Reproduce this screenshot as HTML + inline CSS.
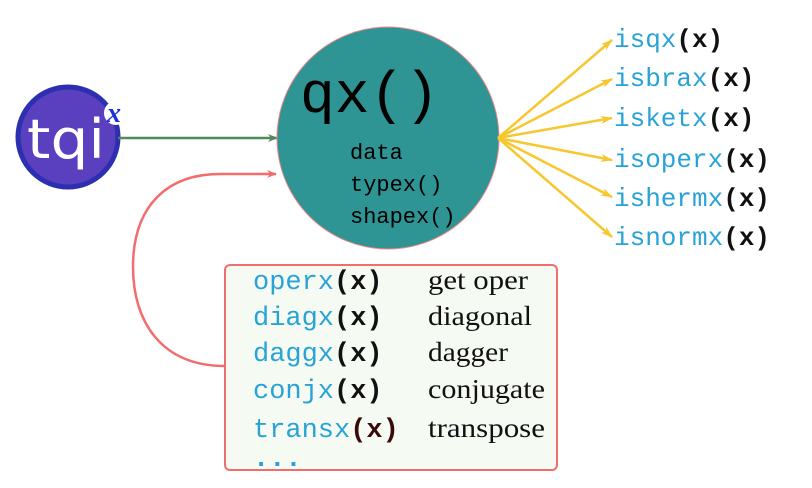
<!DOCTYPE html>
<html><head><meta charset="utf-8"><style>
html,body{margin:0;padding:0;background:#fff;width:812px;height:488px;overflow:hidden}
</style></head><body>
<svg width="812" height="488" viewBox="0 0 812 488" xmlns="http://www.w3.org/2000/svg">
<defs>
<marker id="ag" markerWidth="10" markerHeight="8" refX="9" refY="4" orient="auto" markerUnits="userSpaceOnUse"><path d="M0,0 L10,4 L0,8 L3,4 z" fill="#4f8a5a"/></marker>
<marker id="ar" markerWidth="10" markerHeight="8" refX="9" refY="4" orient="auto" markerUnits="userSpaceOnUse"><path d="M0,0 L10,4 L0,8 L3,4 z" fill="#f26d6d"/></marker>
<marker id="ay" markerWidth="12" markerHeight="8" refX="11" refY="4" orient="auto" markerUnits="userSpaceOnUse"><path d="M0,0 L12,4 L0,8 L3,4 z" fill="#f7c72f"/></marker>
</defs>
<!-- tqi logo -->
<circle cx="68" cy="137" r="50" fill="#5a3fbf" stroke="#2b2fb0" stroke-width="5"/>
<text x="27" y="158" font-family="DejaVu Sans, sans-serif" font-size="54" fill="#fff" textLength="78" lengthAdjust="spacingAndGlyphs">tqi</text>
<circle cx="116" cy="113" r="12" fill="#fff"/>
<text x="107" y="122" font-family="Liberation Serif, serif" font-style="italic" font-weight="bold" font-size="28" fill="#1a2ee0">x</text>
<!-- green arrow -->
<line x1="118" y1="138" x2="277" y2="138" stroke="#4f8a5a" stroke-width="2.5" marker-end="url(#ag)"/>
<!-- red curve -->
<path d="M225,366 C160,366 133,320 133,267 C133,205 168,174 220,174 L276,174" fill="none" stroke="#f26d6d" stroke-width="2.5" marker-end="url(#ar)"/>
<!-- main circle -->
<circle cx="388" cy="138" r="111" fill="#2e9494" stroke="#e88" stroke-width="1"/>
<text x="300" y="112" font-family="Liberation Mono, monospace" font-size="58" fill="#000">qx()</text>
<g font-family="Liberation Mono, monospace" font-size="22" fill="#000">
<text x="350" y="159">data</text>
<text x="350" y="191">typex()</text>
<text x="350" y="223">shapex()</text>
</g>
<!-- yellow arrows -->
<g stroke="#f7c72f" stroke-width="2.5" marker-end="url(#ay)" fill="none">
<line x1="498" y1="138" x2="612" y2="40"/>
<line x1="498" y1="138" x2="612" y2="79"/>
<line x1="498" y1="138" x2="612" y2="118"/>
<line x1="498" y1="138" x2="612" y2="160"/>
<line x1="498" y1="138" x2="612" y2="197"/>
<line x1="498" y1="138" x2="612" y2="237"/>
</g>
<g font-family="Liberation Mono, monospace" font-size="26" font-weight="bold">
<text x="614" y="47"><tspan fill="#29a3d6" font-weight="normal">isqx</tspan><tspan fill="#111">(x)</tspan></text>
<text x="614" y="86"><tspan fill="#29a3d6" font-weight="normal">isbrax</tspan><tspan fill="#111">(x)</tspan></text>
<text x="614" y="126"><tspan fill="#29a3d6" font-weight="normal">isketx</tspan><tspan fill="#111">(x)</tspan></text>
<text x="614" y="167"><tspan fill="#29a3d6" font-weight="normal">isoperx</tspan><tspan fill="#111">(x)</tspan></text>
<text x="614" y="206"><tspan fill="#29a3d6" font-weight="normal">ishermx</tspan><tspan fill="#111">(x)</tspan></text>
<text x="614" y="245"><tspan fill="#29a3d6" font-weight="normal">isnormx</tspan><tspan fill="#111">(x)</tspan></text>
</g>
<!-- box -->
<rect x="225" y="265" width="332" height="205" rx="5" fill="#f5faf3" stroke="#f26d6d" stroke-width="2"/>
<g font-family="Liberation Mono, monospace" font-size="27" font-weight="bold">
<text x="253" y="289"><tspan fill="#29a3d6" font-weight="normal">operx</tspan><tspan fill="#111">(x)</tspan></text>
<text x="253" y="325"><tspan fill="#29a3d6" font-weight="normal">diagx</tspan><tspan fill="#111">(x)</tspan></text>
<text x="253" y="361"><tspan fill="#29a3d6" font-weight="normal">daggx</tspan><tspan fill="#111">(x)</tspan></text>
<text x="253" y="398"><tspan fill="#29a3d6" font-weight="normal">conjx</tspan><tspan fill="#111">(x)</tspan></text>
<text x="253" y="437"><tspan fill="#29a3d6" font-weight="normal">transx</tspan><tspan fill="#3a0a0a">(x)</tspan></text>
<text x="253" y="466" fill="#29a3d6">...</text>
</g>
<g font-family="Liberation Serif, serif" font-size="27" fill="#111" lengthAdjust="spacingAndGlyphs">
<text x="428" y="289" textLength="100" lengthAdjust="spacingAndGlyphs">get oper</text>
<text x="428" y="325" textLength="104" lengthAdjust="spacingAndGlyphs">diagonal</text>
<text x="428" y="361" textLength="80" lengthAdjust="spacingAndGlyphs">dagger</text>
<text x="428" y="398" textLength="117" lengthAdjust="spacingAndGlyphs">conjugate</text>
<text x="428" y="437" textLength="117" lengthAdjust="spacingAndGlyphs">transpose</text>
</g>
</svg>
</body></html>
